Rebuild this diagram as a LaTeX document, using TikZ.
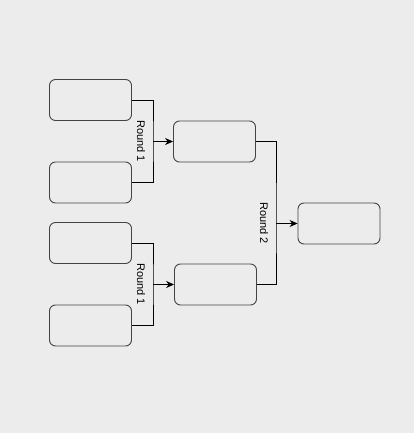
\documentclass[tikz,border=0pt]{standalone}
\usepackage{fontspec}
\setmainfont{Liberation Sans}
\usetikzlibrary{arrows.meta}
\definecolor{bgcol}{HTML}{ECECEC}
\definecolor{boxline}{HTML}{444444}
\tikzset{team/.style={draw=boxline, line width=0.9pt, rounded corners=6pt,
    minimum width=82pt, minimum height=41pt, inner sep=0pt}}
\tikzset{wire/.style={draw=black, line width=0.8pt}}
\tikzset{feed/.style={wire, -{Stealth[length=8pt, width=7pt]}}}
\tikzset{roundlabel/.style={rotate=-90, font=\fontsize{11pt}{13pt}\selectfont, inner sep=0pt}}

\begin{document}
\begin{tikzpicture}[x=1pt, y=-1pt]
    \fill[bgcol] (0,0) rectangle (414,433);
    \useasboundingbox (0,0) rectangle (414,433);

    \node[team] (a1) at (90.5,100) {};
    \node[team] (a2) at (90.5,182.5) {};
    \node[team] (a3) at (90.5,243) {};
    \node[team] (a4) at (90.5,325.5) {};
    \node[team] (b1) at (214.5,141.5) {};
    \node[team] (b2) at (215.5,284.5) {};
    \node[team] (final) at (339,223.5) {};

    % round 1, upper pair
    \coordinate (j1) at (153,141.5);
    \draw[wire] (a1.east) -| (j1) |- (a2.east);
    \draw[feed] (j1) -- (b1.west);
    \node[roundlabel] (r1a) at (141,141) {Round 1};

    % round 1, lower pair
    \coordinate (j2) at (153,284.5);
    \draw[wire] (a3.east) -| (j2) |- (a4.east);
    \draw[feed] (j2) -- (b2.west);
    \node[roundlabel] (r1b) at (141,284) {Round 1};

    % round 2
    \coordinate (j3) at (276,223.5);
    \draw[wire] (b1.east) -| (j3) |- (b2.east);
    \draw[feed] (j3) -- (final.west);
    \node[roundlabel] (r2) at (264,223) {Round 2};
\end{tikzpicture}
\end{document}
